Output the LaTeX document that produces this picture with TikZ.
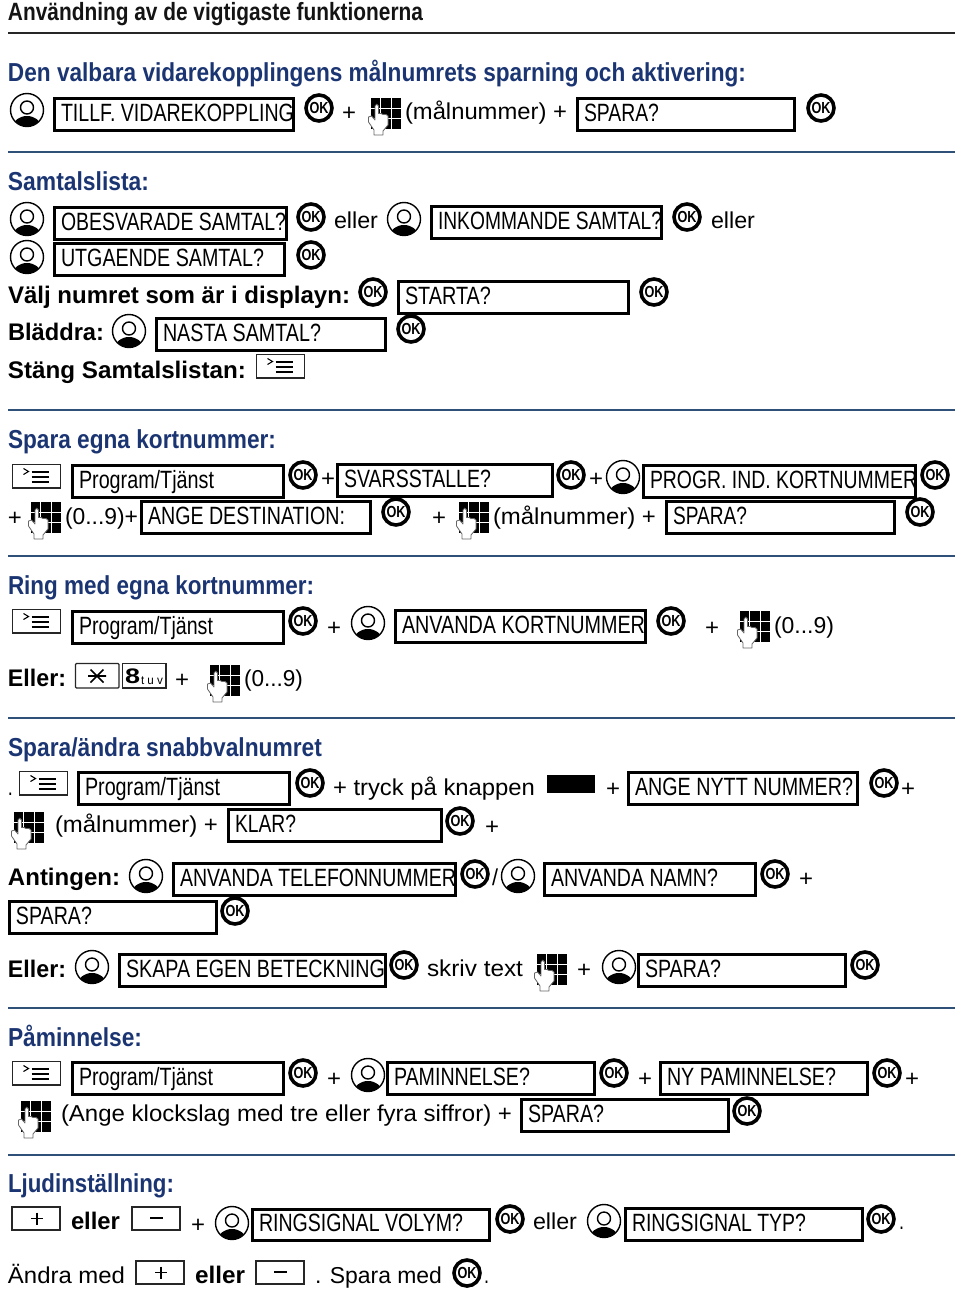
\documentclass[tikz,border=0pt]{standalone}
\usepackage{fontspec}
\usepackage{graphicx}
\setmainfont{Liberation Sans}
\definecolor{headblue}{HTML}{1B3572}
\definecolor{ruleblue}{HTML}{2F5078}
\definecolor{titleink}{HTML}{141414}
\newcommand\fdisp{\fontsize{25}{25}\selectfont}
\newcommand\fbody{\fontsize{23}{23}\selectfont}
\newcommand\fbold{\fontsize{24}{24}\selectfont\bfseries}
\newcommand\fhead{\fontsize{26}{26}\selectfont\bfseries\color{headblue}}
\newcommand\ftitle{\fontsize{25}{25}\selectfont\bfseries\color{titleink}}
\newcounter{tn}
\tikzset{
  txt/.style={anchor=base west,inner sep=0pt,outer sep=0pt},
  dispbox/.style={draw=black,line width=3pt,fill=white},
  keybox/.style={draw=black!85,line width=1.2pt,fill=white},
  bluerule/.style={draw=ruleblue,line width=1.3pt},
}
% text fitted between x1 and x2, on baseline
\newcommand\T[5]{\stepcounter{tn}\pgfmathsetmacro{\tw}{#2-#1}%
  \node[txt] (t\arabic{tn}) at (#1,#3) {\resizebox{\tw pt}{\height}{#4#5}};}
% display box: x1,y1,x2,y2,text right,text
\newcommand\D[6]{\draw[dispbox] (#1,#2) rectangle (#3,#4);%
  \pgfmathsetmacro{\dx}{#1+7}\pgfmathsetmacro{\dy}{#4-9}%
  \T{\dx}{#5}{\dy}{\fdisp}{#6}}
\newcommand\OK[2]{\begin{scope}[shift={(#1,#2)}]
  \draw[line width=3.6pt,fill=white] (0,0) circle[radius=13];
  \stepcounter{tn}\node[inner sep=0pt] (t\arabic{tn}) at (0,0) {\resizebox{19pt}{\height}{\fontsize{16}{16}\selectfont\bfseries OK}};
  \end{scope}}
\newcommand\NAV[2]{\begin{scope}[shift={(#1,#2)}]
  \begin{scope}\clip (0,0) circle[radius=16.5];
    \fill[black] (0,17) ellipse[x radius=14,y radius=11];
  \end{scope}
  \draw[line width=1.4pt] (0,0) circle[radius=16.5];
  \draw[line width=1.4pt,fill=white] (0,-2.5) circle[radius=6.5];
  \end{scope}}
\newcommand\PAD[2]{\begin{scope}[shift={(#1,#2)}]
  \foreach \cx in {2.5,13,23.5}{\foreach \cy in {1,11.5,22}{\fill[black] (\cx,\cy) rectangle ++(9.5,9.5);}}
  \draw[draw=black!60,line width=.8pt,fill=white,line join=round]
    (6,38) -- (15,38) -- (15,34) -- (20,28) -- (20,19) -- (18,17.5) -- (15,17.5) -- (13,16.5) -- (10.5,16.5)
    -- (10.5,9) .. controls (10,6.5) and (7.5,6.5) .. (7,9) -- (7,23) -- (3.5,19) -- (0.5,20) -- (0.5,25) -- (6,33) -- cycle;
  \end{scope}}
\newcommand\MENU[2]{\begin{scope}[shift={(#1,#2)}]
  \draw[keybox] (0,0) rectangle (48,23.5);
  \draw[line width=1.1pt] (11,4) -- (16,7) -- (11,10);
  \draw[line width=2.4pt] (19,7.5) -- (36,7.5) (19,12.5) -- (36,12.5) (19,17.5) -- (36,17.5);
  \end{scope}}
\newcommand\KEYP[2]{\begin{scope}[shift={(#1,#2)}]
  \draw[keybox] (0,0) rectangle (48,23);
  \draw[line width=1.2pt] (19,11.5) -- (31,11.5) (25,5.5) -- (25,17.5);
  \end{scope}}
\newcommand\KEYM[2]{\begin{scope}[shift={(#1,#2)}]
  \draw[keybox] (0,0) rectangle (48,23);
  \draw[line width=1.6pt] (18,11) -- (31,11);
  \end{scope}}
\newcommand\PL[2]{\pgfmathsetmacro{\px}{#1+14}\T{#1}{\px}{#2}{\fbody}{+}}
\begin{document}
\begin{tikzpicture}[x=1pt,y=-1pt]
\useasboundingbox (0,0) rectangle (960,1293);
\T{8}{423}{20}{\ftitle}{Användning av de vigtigaste funktionerna}
\draw[draw=black!85,line width=2pt] (8,32.5) -- (955,32.5);
\T{8}{746}{81}{\fhead}{Den valbara vidarekopplingens målnumrets sparning och aktivering:}
\NAV{27}{110}
\D{54}{98}{293}{130}{294}{TILLF. VIDAREKOPPLING}
\OK{319}{108}
\PL{342}{120}
\PAD{368}{97}
\T{405}{567}{119}{\fbody}{(målnummer) +}
\D{577}{98}{794}{130}{659}{SPARA?}
\OK{821}{108}
\draw[bluerule] (8,152) -- (955,152);
\T{8}{149}{190}{\fhead}{Samtalslista:}
\NAV{27}{219}
\D{54}{207}{286}{239}{286}{OBESVARADE SAMTAL?}
\OK{311}{217}
\T{334}{378}{228}{\fbody}{eller}
\NAV{404}{219}
\D{431}{206}{661}{238}{662}{INKOMMANDE SAMTAL?}
\OK{687}{217}
\T{711}{755}{228}{\fbody}{eller}
\NAV{27}{257}
\D{54}{243}{284}{275}{264}{UTGAENDE SAMTAL?}
\OK{311}{255}
\T{8}{350}{303}{\fbold}{Välj numret som är i displayn:}
\OK{373}{292}
\D{398}{281}{628}{313}{491}{STARTA?}
\OK{654}{292}
\T{8}{104}{340}{\fbold}{Bläddra:}
\NAV{129}{331}
\D{156}{318}{385}{350}{321}{NASTA SAMTAL?}
\OK{411}{329}
\T{8}{246}{378}{\fbold}{Stäng Samtalslistan:}
\MENU{256.5}{354.5}
\draw[bluerule] (8,410) -- (955,410);
\T{8}{276}{448}{\fhead}{Spara egna kortnummer:}
\MENU{12.5}{464.5}
\D{72}{465}{283}{497}{214}{Program/Tjänst}
\OK{303}{475}
\PL{321}{486}
\D{337}{464}{552}{496}{491}{SVARSSTALLE?}
\OK{571}{475}
\PL{589}{486}
\NAV{623}{477}
\D{643}{465}{915}{497}{917}{PROGR. IND. KORTNUMMER}
\OK{935}{475}
\PL{8}{525}
\PAD{28}{501}
\T{65}{138}{524}{\fbody}{(0...9)+}
\D{141}{501}{370}{533}{345}{ANGE DESTINATION:}
\OK{396}{512}
\PL{432}{525}
\PAD{456}{501}
\T{493}{656}{524}{\fbody}{(målnummer) +}
\D{666}{501}{894}{533}{747}{SPARA?}
\OK{920}{512}
\draw[bluerule] (8,556) -- (955,556);
\T{8}{314}{594}{\fhead}{Ring med egna kortnummer:}
\MENU{12.5}{609.5}
\D{72}{611}{283}{643}{213}{Program/Tjänst}
\OK{303}{621}
\PL{327}{635}
\NAV{368}{623}
\D{395}{610}{645}{642}{645}{ANVANDA KORTNUMMER}
\OK{671}{621}
\PL{705}{635}
\PAD{737}{610}
\T{774}{834}{633}{\fbody}{(0...9)}
\T{8}{66}{686}{\fbold}{Eller:}
\draw[keybox,rounded corners=1pt] (75.5,663.5) rectangle (119,688);
\draw[line width=1.6pt] (88,676) -- (106,676) (90.5,669.5) -- (103.5,682.5) (103.5,669.5) -- (90.5,682.5);
\draw[keybox] (122.5,663.5) rectangle (166,688);
\T{125}{140}{683}{\fontsize{21}{21}\selectfont\bfseries}{8}
\T{141}{163}{684}{\fontsize{12}{12}\selectfont}{t u v}
\PL{175}{687}
\PAD{207}{664}
\T{244}{303}{686}{\fbody}{(0...9)}
\draw[bluerule] (8,718) -- (955,718);
\T{8}{322}{756}{\fhead}{Spara/ändra snabbvalnumret}
\T{8}{13}{795}{\fbody}{.}
\MENU{19.5}{771.5}
\D{78}{772}{289}{804}{220}{Program/Tjänst}
\OK{310}{783}
\T{333}{535}{795}{\fbody}{+ tryck på knappen}
\fill[black] (547,775) rectangle (595,793);
\PL{606}{796}
\D{628}{772}{857}{804}{853}{ANGE NYTT NUMMER?}
\OK{884}{783}
\PL{901}{796}
\PAD{11}{811}
\T{55}{218}{832}{\fbody}{(målnummer) +}
\D{228}{809}{441}{841}{296}{KLAR?}
\OK{460}{821}
\PL{485}{834}
\T{8}{120}{885}{\fbold}{Antingen:}
\NAV{146}{876}
\D{173}{863}{455}{895}{456}{ANVANDA TELEFONNUMMER}
\OK{475}{874}
\T{492}{498}{885}{\fbody}{/}
\NAV{518}{876}
\D{544}{863}{755}{895}{718}{ANVANDA NAMN?}
\OK{775}{874}
\PL{799}{886}
\D{9}{901}{216}{933}{92}{SPARA?}
\OK{235}{911}
\T{8}{66}{977}{\fbold}{Eller:}
\NAV{92}{967}
\D{119}{954}{385}{986}{385}{SKAPA EGEN BETECKNING}
\OK{404}{965}
\T{427}{523}{976}{\fbody}{skriv text}
\PAD{534}{953}
\PL{577}{977}
\NAV{619}{967}
\D{638}{954}{845}{986}{721}{SPARA?}
\OK{865}{965}
\draw[bluerule] (8,1008) -- (955,1008);
\T{8}{142}{1046}{\fhead}{Påminnelse:}
\MENU{12.5}{1061.5}
\D{72}{1062}{283}{1094}{213}{Program/Tjänst}
\OK{303}{1073}
\PL{327}{1086}
\NAV{368}{1075}
\D{387}{1062}{594}{1094}{530}{PAMINNELSE?}
\OK{614}{1073}
\PL{638}{1086}
\D{660}{1062}{867}{1094}{836}{NY PAMINNELSE?}
\OK{887}{1073}
\PL{905}{1086}
\PAD{18}{1100}
\T{61}{512}{1121}{\fbody}{(Ange klockslag med tre eller fyra siffror) +}
\D{521}{1099}{728}{1131}{604}{SPARA?}
\OK{747}{1111}
\draw[bluerule] (8,1155) -- (955,1155);
\T{8}{174}{1192}{\fhead}{Ljudinställning:}
\KEYP{12}{1207}
\T{71}{120}{1229}{\fbold}{eller}
\KEYM{132}{1207}
\PL{191}{1232}
\NAV{232}{1223}
\D{252}{1209}{489}{1240}{463}{RINGSIGNAL VOLYM?}
\OK{510}{1219}
\T{533}{577}{1229}{\fbody}{eller}
\NAV{604}{1221}
\D{625}{1208}{862}{1240}{806}{RINGSIGNAL TYP?}
\OK{881}{1219}
\T{899}{904}{1229}{\fbody}{.}
\T{8}{125}{1283}{\fbody}{Ändra med}
\KEYP{136}{1261}
\T{195}{245}{1283}{\fbold}{eller}
\KEYM{256}{1261}
\T{315}{442}{1283}{\fbody}{. Spara med}
\OK{467}{1273}
\T{484}{489}{1283}{\fbody}{.}
\end{tikzpicture}
\end{document}
